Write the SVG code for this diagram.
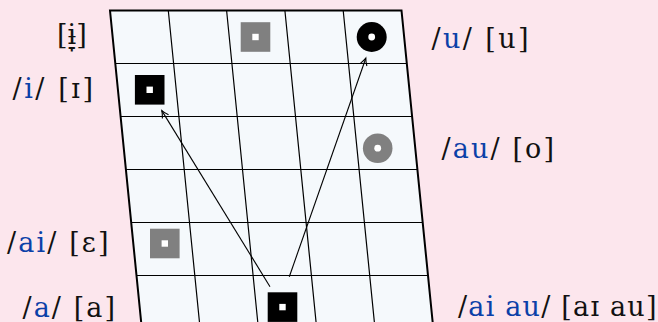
<svg xmlns="http://www.w3.org/2000/svg" width="658" height="322" viewBox="0 0 658 322">
<defs>
<style>
.lbl{font-family:"DejaVu Serif","Liberation Serif",serif;font-size:27px;fill:#111}
.b{fill:#0b40a8}
.grid{fill:#f5f9fc;stroke:#000;stroke-width:2}
.gl{stroke:#000;stroke-width:1.2;fill:none}
.conn{stroke:#000;stroke-width:1.1;fill:none;marker-end:url(#ah)}
.dk{fill:#000}
.gy{fill:#808080}
.hole{fill:#fff}
</style>
<marker id="ah" viewBox="-10 -6 12 12" refX="0" refY="0" markerWidth="12" markerHeight="12" orient="auto" markerUnits="userSpaceOnUse">
<path d="M-7,-3.6 Q-3,-1 0,0 Q-3,1 -7,3.6" fill="none" stroke="#000" stroke-width="1.1"/>
</marker>
</defs>
<rect width="658" height="322" fill="#fce6ed"/>
<g id="chart">
<polygon class="grid" points="110,10.5 401.5,10.5 433.95,335 142.45,335"/>
<path class="gl" d="M168.3,10.5L200.75,335M226.6,10.5L259.05,335M284.9,10.5L317.35,335M343.2,10.5L375.65,335"/>
<path class="gl" d="M115.3,63.5H406.8M120.6,116.5H412.1M125.9,169.5H417.4M131.2,222.5H422.7M136.5,275.5H428"/>
</g>
<g id="n-i-upper">
<rect class="gy" x="240.7" y="22.2" width="29.6" height="29.6"/>
<rect class="hole" x="252.3" y="33.8" width="6.4" height="6.4"/>
</g>
<g id="n-u">
<circle class="dk" cx="371.7" cy="37" r="15"/>
<circle class="hole" cx="371.7" cy="37" r="3.4"/>
</g>
<g id="n-i">
<rect class="dk" x="134.9" y="75" width="29.6" height="29.6"/>
<rect class="hole" x="146.5" y="86.6" width="6.4" height="6.4"/>
</g>
<g id="n-au">
<circle class="gy" cx="377.7" cy="148.2" r="14.8"/>
<circle class="hole" cx="377.7" cy="148.2" r="3.4"/>
</g>
<g id="n-ai">
<rect class="gy" x="150" y="228.7" width="29.6" height="29.6"/>
<rect class="hole" x="161.6" y="240.3" width="6.4" height="6.4"/>
</g>
<g id="n-a">
<rect class="dk" x="267.7" y="292.3" width="29.6" height="29.6"/>
<rect class="hole" x="279.3" y="303.9" width="6.4" height="6.4"/>
</g>
<g id="connectors">
<line class="conn" x1="270" y1="286.7" x2="161.8" y2="110.6"/>
<line class="conn" x1="289.3" y1="276.7" x2="365.8" y2="58.2"/>
</g>
<g id="labels">
<text class="lbl" x="57" y="44">[ɨ̞]</text>
<text class="lbl" x="12.5" y="98" textLength="80.5" lengthAdjust="spacing">/<tspan class="b">i</tspan>/ [ɪ]</text>
<text class="lbl" x="431.5" y="48" textLength="97" lengthAdjust="spacing">/<tspan class="b">u</tspan>/ [u]</text>
<text class="lbl" x="441.5" y="157.5" textLength="112.5" lengthAdjust="spacing">/<tspan class="b">au</tspan>/ [o]</text>
<text class="lbl" x="7" y="251.5" textLength="101.5" lengthAdjust="spacing">/<tspan class="b">ai</tspan>/ [ɛ]</text>
<text class="lbl" x="22.5" y="316.5" textLength="92.5" lengthAdjust="spacing">/<tspan class="b">a</tspan>/ [a]</text>
<text class="lbl" x="458" y="316" textLength="198.5" lengthAdjust="spacing">/<tspan class="b">ai au</tspan>/ [aɪ au]</text>
</g>
</svg>
